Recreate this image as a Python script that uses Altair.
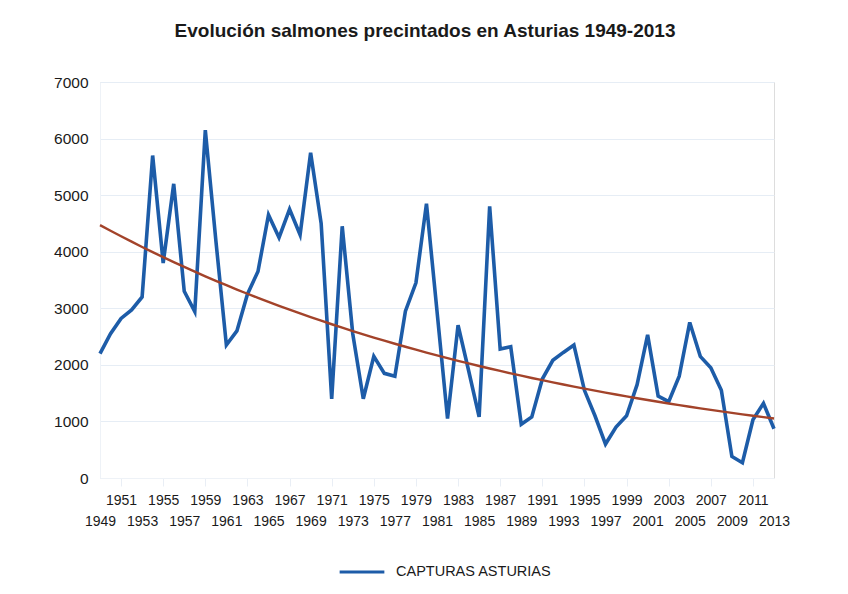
import altair as alt
import pandas as pd

years = list(range(1949, 2014))
capturas = [
    2200, 2550, 2820, 2970, 3200, 5700, 3800, 5200, 3300, 2940,   # 1949-1958
    6150, 4200, 2350, 2600, 3250, 3650, 4650, 4250, 4750, 4300,   # 1959-1968
    5750, 4500, 1400, 4450, 2550, 1400, 2150, 1850, 1800, 2950,   # 1969-1978
    3450, 4850, 2950, 1050, 2700, 1900, 1080, 4800, 2280, 2320,   # 1979-1988
    950, 1080, 1750, 2080, 2220, 2350, 1550, 1100, 600, 900,      # 1989-1998
    1100, 1650, 2530, 1450, 1350, 1800, 2750, 2150, 1950, 1550,   # 1999-2008
    380, 270, 1030, 1320, 870,                                    # 2009-2013
]
serie = "CAPTURAS ASTURIAS"
ticks_top_row = list(range(1951, 2014, 4))     # 1951, 1955, ... 2011
ticks_bottom_row = list(range(1949, 2014, 4))  # 1949, 1953, ... 2013
y_ticks = [0, 1000, 2000, 3000, 4000, 5000, 6000, 7000]

df = pd.DataFrame({"year": years, "value": capturas, "serie": serie})

FONT = "Liberation Sans"
BLUE = "#1d5ca8"
BROWN = "#a3432a"
TXT = "#1a1a1a"

xscale = alt.Scale(domain=[1949, 2013], nice=False, zero=False)
yscale = alt.Scale(domain=[0, 7000], nice=False)


def x_axis(values, pad, ticks):
    return alt.Axis(
        values=values,
        format="d",
        title=None,
        grid=False,
        labelFontSize=14,
        labelColor=TXT,
        labelFont=FONT,
        labelPadding=pad,
        labelOverlap=False,
        labelFlush=False,
        labelBaseline="top",
        ticks=ticks,
        tickColor="#e9eef5",
        tickSize=8,
        domainColor="#eef2f7",
        orient="bottom",
    )


y_axis = alt.Axis(
    values=y_ticks,
    format="d",
    title=None,
    ticks=False,
    labelFontSize=15.5,
    labelColor=TXT,
    labelFont=FONT,
    labelPadding=12,
    gridColor="#e6edf5",
    gridWidth=1,
    domainColor="#eef2f7",
)

base = alt.Chart(df)

line = base.mark_line(strokeWidth=3.6, strokeJoin="miter").encode(
    x=alt.X("year:Q", scale=xscale, axis=x_axis(ticks_top_row, 7, True)),
    y=alt.Y("value:Q", scale=yscale, axis=y_axis),
    color=alt.Color(
        "serie:N",
        scale=alt.Scale(domain=[serie], range=[BLUE]),
        legend=alt.Legend(
            title=None,
            orient="none",
            legendX=238,
            legendY=466,
            symbolType="stroke",
            symbolSize=2000,
            symbolStrokeWidth=3,
            labelFontSize=14.5,
            labelFont=FONT,
            labelColor=TXT,
            labelOffset=10,
            padding=0,
        ),
    ),
)

# second row of staggered year labels
second_row = base.mark_point(opacity=0).encode(
    x=alt.X("year:Q", scale=xscale, axis=x_axis(ticks_bottom_row, 36, False)),
    y=alt.Y("value:Q", scale=yscale, axis=y_axis),
)

# exponential trend (least squares on log values, as a spreadsheet trendline)
trend = (
    base.transform_calculate(logv="log(datum.value)")
    .transform_joinaggregate(mx="mean(year)", my="mean(logv)")
    .transform_calculate(
        dxy="(datum.year - datum.mx) * (datum.logv - datum.my)",
        dxx="(datum.year - datum.mx) * (datum.year - datum.mx)",
    )
    .transform_joinaggregate(sxy="sum(dxy)", sxx="sum(dxx)")
    .transform_calculate(
        trend="exp(datum.my + datum.sxy / datum.sxx * (datum.year - datum.mx))"
    )
    .mark_line(strokeWidth=2.4, color=BROWN)
    .encode(
        x=alt.X("year:Q", scale=xscale, axis=None),
        y=alt.Y("trend:Q", scale=yscale, axis=y_axis),
    )
)

chart = (
    alt.layer(line, second_row, trend)
    .resolve_axis(x="independent")
    .properties(
        width=674,
        height=396,
        autosize=alt.AutoSizeParams(type="none"),
        padding={"left": 92, "top": 74, "right": 66, "bottom": 108},
        title=alt.TitleParams(
            "Evolución salmones precintados en Asturias 1949-2013",
            font=FONT,
            fontSize=19,
            fontWeight="bold",
            color=TXT,
            offset=34,
            dx=-12,
        ),
    )
    .configure_view(stroke="transparent", strokeWidth=0)
    .configure(background="white")
)

chart.save("out.html", embed_options={"renderer": "svg", "actions": False})
